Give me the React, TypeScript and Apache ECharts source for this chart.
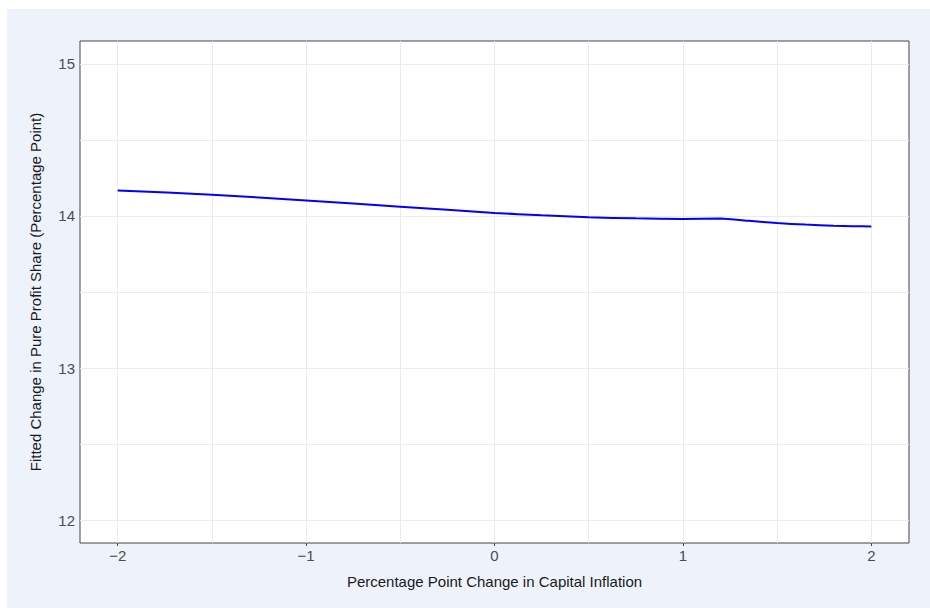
import React, { useEffect, useRef } from "react";
import * as echarts from "echarts";

const xValues = [-2, -1.5, -1, -0.5, 0, 0.25, 0.5, 0.75, 1, 1.2, 1.35, 1.5, 1.65, 1.8, 1.9, 2];
const yValues = [14.168, 14.14, 14.101, 14.061, 14.02, 14.004, 13.991, 13.984, 13.98, 13.983, 13.968, 13.953, 13.943, 13.935, 13.932, 13.931];
const xTicks = [-2, -1, 0, 1, 2];
const yTicks = [12, 13, 14, 15];
const xGridLines = [-2, -1.5, -1, -0.5, 0, 0.5, 1, 1.5, 2];
const yGridLines = [12, 12.5, 13, 13.5, 14, 14.5, 15];
const xTitle = "Percentage Point Change in Capital Inflation";
const yTitle = "Fitted Change in Pure Profit Share (Percentage Point)";

const FONT = "'Liberation Sans', Arial, Helvetica, sans-serif";

export default function App() {
  const ref = useRef<HTMLDivElement>(null);
  useEffect(() => {
    if (!ref.current) return;
    const chart = echarts.init(ref.current, undefined, { renderer: "svg" });
    const fmt = (v: number) => String(v).replace("-", "\u2212");
    const gridData = [
      ...xGridLines.map((v) => ({ xAxis: v })),
      ...yGridLines.map((v) => ({ yAxis: v })),
    ];
    chart.setOption({
      animation: false,
      backgroundColor: "#eef2fa",
      textStyle: { fontFamily: FONT },
      grid: {
        left: 73,
        top: 32,
        right: 21,
        bottom: 65,
        show: true,
        backgroundColor: "#ffffff",
        borderColor: "#444444",
        borderWidth: 1,
      },
      xAxis: {
        type: "value",
        min: -2.2,
        max: 2.2,
        name: xTitle,
        nameLocation: "middle",
        nameGap: 31,
        nameTextStyle: { color: "#1a1a1a", fontSize: 15, fontFamily: FONT },
        axisLine: { show: false },
        axisTick: { show: true, length: 3, customValues: xTicks, lineStyle: { color: "#444" } },
        axisLabel: { customValues: xTicks, formatter: fmt, color: "#4d4d4d", fontSize: 15, margin: 5, fontFamily: FONT },
        splitLine: { show: false },
      },
      yAxis: {
        type: "value",
        min: 11.85,
        max: 15.15,
        name: yTitle,
        nameLocation: "middle",
        nameGap: 37,
        nameTextStyle: { color: "#1a1a1a", fontSize: 15, fontFamily: FONT },
        axisLine: { show: false },
        axisTick: { show: true, length: 3, customValues: yTicks, lineStyle: { color: "#444" } },
        axisLabel: { customValues: yTicks, formatter: fmt, color: "#4d4d4d", fontSize: 15, margin: 5, fontFamily: FONT },
        splitLine: { show: false },
      },
      series: [
        {
          type: "line",
          data: [],
          z: 1,
          silent: true,
          markLine: {
            silent: true,
            symbol: ["none", "none"],
            label: { show: false },
            lineStyle: { color: "#ebebeb", width: 1, type: "solid" },
            emphasis: { disabled: true },
            data: gridData,
          },
        },
        {
          type: "line",
          z: 5,
          data: xValues.map((x, i) => [x, yValues[i]]),
          showSymbol: false,
          symbol: "none",
          smooth: 0.2,
          lineStyle: { color: "#0000ff", width: 2 },
          itemStyle: { color: "#0000ff" },
        },
      ],
    });
    return () => chart.dispose();
  }, []);
  return (
    <div
      ref={ref}
      style={{ position: "absolute", left: 7, top: 9, width: 923, height: 599 }}
    />
  );
}
